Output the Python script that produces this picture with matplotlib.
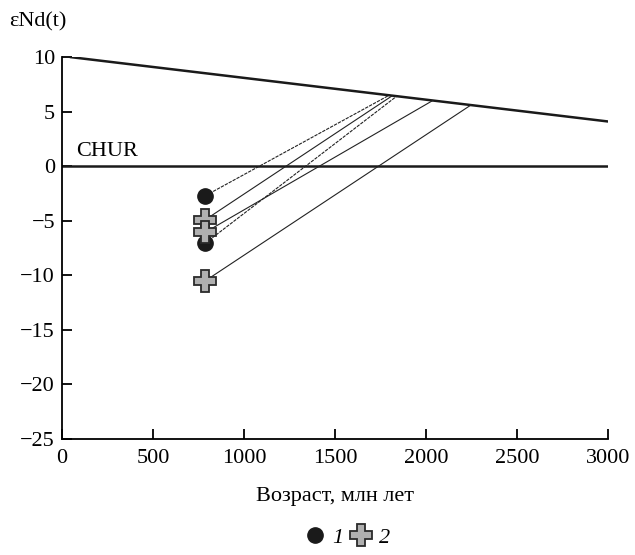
import numpy as np
import matplotlib
matplotlib.use("Agg")
import matplotlib.pyplot as plt
from matplotlib.lines import Line2D

plt.rcParams['font.family'] = ['Liberation Serif', 'DejaVu Serif']

# деплетированная мантия (DM) и CHUR
dm_age = [50, 3000]
dm_eps = [10.0, 4.1]
chur_age = [0, 3000]
chur_eps = [0, 0]

# группа 1 (кружки)
g1_age = [787, 787]
g1_eps = [-2.7, -7.05]
g1_tdm = [1796, 1838]

# группа 2 (кресты)
g2_age = [787, 787, 787]
g2_eps = [-4.9, -6.05, -10.5]
g2_tdm = [1814, 2036, 2245]

fs = 16

fig = plt.figure(figsize=(6.35, 5.55), dpi=100)
ax = fig.add_axes([0.0976, 0.209, 0.8605, 0.688])

ax.plot(dm_age, dm_eps, color='#1a1a1a', lw=1.8, zorder=2)
ax.plot(chur_age, chur_eps, color='#1a1a1a', lw=1.8, zorder=2)
ax.text(75, 0.45, 'CHUR', fontsize=fs, ha='left', va='bottom')

# линии эволюции
for a, e, t in zip(g1_age, g1_eps, g1_tdm):
    ax.plot([a, t], [e, np.interp(t, dm_age, dm_eps)], color='#222222',
            lw=0.8, ls=(0, (3, 1)), zorder=3)
for a, e, t in zip(g2_age, g2_eps, g2_tdm):
    ax.plot([a, t], [e, np.interp(t, dm_age, dm_eps)], color='#222222',
            lw=0.8, zorder=3)

ax.plot(g1_age, g1_eps, 'o', color='#1a1a1a', ms=11, zorder=4)
ax.plot(g2_age, g2_eps, 'P', mfc='#b0b0b0', mec='#2a2a2a', mew=1.3, ms=16, zorder=5)

ax.set_xlim(0, 3000)
ax.set_ylim(-25, 10)
ax.set_xticks(range(0, 3001, 500))
ax.set_yticks(range(-25, 11, 5))
ax.set_yticklabels(['\u2212' + str(-v) if v < 0 else str(v) for v in range(-25, 11, 5)])
ax.spines['top'].set_visible(False)
ax.spines['right'].set_visible(False)
for s in ['left', 'bottom']:
    ax.spines[s].set_linewidth(1.3)
ax.tick_params(direction='in', length=7, width=1.3, labelsize=fs, pad=5)
ax.tick_params(axis='x', pad=7)

ax.set_xlabel('Возраст, млн лет', fontsize=fs, labelpad=14)
fig.text(0.014, 0.96, 'εNd(t)', fontsize=fs, ha='left', va='center')

handles = [
    Line2D([], [], marker='o', ls='', color='#1a1a1a', ms=11),
    Line2D([], [], marker='P', ls='', mfc='#b0b0b0', mec='#2a2a2a', mew=1.3, ms=16),
]
leg = fig.legend(handles, ['1', '2'], loc='center', bbox_to_anchor=(0.548, 0.032),
                 ncol=2, frameon=False, handlelength=0.8, handletextpad=0.4,
                 columnspacing=0.4, prop={'size': fs, 'style': 'italic'})

fig.savefig('out.png', dpi=100)
